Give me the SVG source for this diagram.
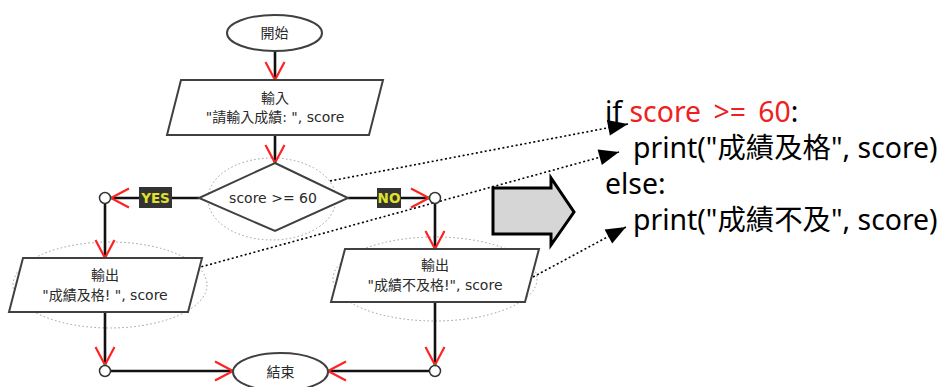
<svg xmlns="http://www.w3.org/2000/svg" width="941" height="387" viewBox="0 0 941 387">
  <style>
    .shape { fill: #fff; stroke: #404040; stroke-width: 2; }
    .halo { fill: none; stroke: #9a9a9a; stroke-width: 1; stroke-dasharray: 1.5 2.5; }
    .flow { fill: none; stroke: #111; stroke-width: 2.6; }
    .dot { fill: #fff; stroke: #333; stroke-width: 1.5; }
    .link { fill: none; stroke: #000; stroke-width: 1.6; stroke-dasharray: 2 2.5; }
    .lbl { font-family: "DejaVu Sans", Verdana, "Noto Sans CJK TC", sans-serif; font-size: 14px; fill: #2a2a2a; text-anchor: middle; }
    .tag { font-family: "DejaVu Sans", Verdana, sans-serif; font-size: 13.5px; font-weight: bold; fill: #e0e22a; text-anchor: middle; }
    .code { font-family: "Noto Sans", "Noto Sans CJK TC", sans-serif; font-size: 28.4px; fill: #000; }
  </style>
  <defs>
    <!-- open red V arrowhead with anchor dot -->
    <marker id="vhead" markerUnits="userSpaceOnUse" viewBox="-20 -11 22 22" refX="0" refY="0" markerWidth="22" markerHeight="22" orient="auto" overflow="visible">
      <path d="M-18,-9.5 L0,0 L-18,9.5" fill="none" stroke="#ff2222" stroke-width="2.2"/>
      <circle cx="0" cy="0" r="1.3" fill="#3a9a3a"/>
    </marker>
    <!-- solid black triangle for dotted pointers -->
    <marker id="thead" markerUnits="userSpaceOnUse" viewBox="0 0 20 16" refX="20" refY="8" markerWidth="20" markerHeight="16" orient="auto" overflow="visible">
      <path d="M0,0 L20,8 L0,16 z" fill="#000"/>
    </marker>
  </defs>

  <!-- dotted highlight outlines -->
  <g id="halos">
    <ellipse class="halo" cx="272" cy="199" rx="64" ry="41"/>
    <ellipse class="halo" cx="110" cy="285" rx="97" ry="43"/>
    <ellipse class="halo" cx="435" cy="279" rx="102" ry="42"/>
  </g>

  <g id="connectors">
    <line class="flow" x1="275" y1="51" x2="275" y2="80" marker-end="url(#vhead)"/>
    <line class="flow" x1="275" y1="135" x2="275" y2="163" marker-end="url(#vhead)"/>
    <line class="flow" x1="199" y1="198" x2="111" y2="198" marker-end="url(#vhead)"/>
    <line class="flow" x1="348" y1="198" x2="429" y2="198" marker-end="url(#vhead)"/>
    <line class="flow" x1="105" y1="203" x2="105" y2="258" marker-end="url(#vhead)"/>
    <line class="flow" x1="435" y1="203" x2="435" y2="249" marker-end="url(#vhead)"/>
    <line class="flow" x1="105" y1="312" x2="105" y2="365" marker-end="url(#vhead)"/>
    <line class="flow" x1="435" y1="302" x2="435" y2="365" marker-end="url(#vhead)"/>
    <line class="flow" x1="111" y1="371" x2="233" y2="371" marker-end="url(#vhead)"/>
    <line class="flow" x1="429" y1="371" x2="328" y2="371" marker-end="url(#vhead)"/>
    <!-- dotted pointers to the code -->
    <line class="link" x1="330" y1="181" x2="628" y2="124" marker-end="url(#thead)"/>
    <line class="link" x1="197" y1="268" x2="619" y2="152" marker-end="url(#thead)"/>
    <line class="link" x1="533" y1="277" x2="626" y2="227" marker-end="url(#thead)"/>
  </g>

  <g id="start">
    <ellipse class="shape" cx="274.5" cy="33" rx="47.5" ry="18"/>
    <text class="lbl" x="274.5" y="38">開始</text>
  </g>

  <g id="input">
    <polygon class="shape" points="181,80 383,80 369,135 167,135"/>
    <text class="lbl" x="275" y="103">輸入</text>
    <text class="lbl" x="275" y="122">"請輸入成績: ", score</text>
  </g>

  <g id="decision">
    <polygon class="shape" points="275,163 348,198 275,231 199,198"/>
    <text class="lbl" x="273" y="203">score &gt;= 60</text>
  </g>

  <g id="yes-label">
    <rect x="139" y="187" width="33" height="21" fill="#333"/>
    <text class="tag" x="155.5" y="203">YES</text>
  </g>

  <g id="no-label">
    <rect x="377" y="188" width="24" height="20" fill="#333"/>
    <text class="tag" x="389" y="203">NO</text>
  </g>

  <g id="junction-yes"><circle class="dot" cx="105" cy="198" r="5.5"/></g>
  <g id="junction-no"><circle class="dot" cx="435" cy="198" r="5.5"/></g>

  <g id="output-pass">
    <polygon class="shape" points="23,258 202,258 188,312 9,312"/>
    <text class="lbl" x="105" y="280">輸出</text>
    <text class="lbl" x="105" y="300">"成績及格! ", score</text>
  </g>

  <g id="output-fail">
    <polygon class="shape" points="345,249 539,249 525,302 331,302"/>
    <text class="lbl" x="435" y="270">輸出</text>
    <text class="lbl" x="435" y="290">"成績不及格!", score</text>
  </g>

  <g id="junction-left"><circle class="dot" cx="105" cy="371" r="5.5"/></g>
  <g id="junction-right"><circle class="dot" cx="435" cy="371" r="5.5"/></g>

  <g id="end">
    <ellipse class="shape" cx="280.5" cy="372" rx="47.5" ry="19"/>
    <text class="lbl" x="280.5" y="377">結束</text>
  </g>

  <!-- conversion arrow -->
  <g id="convert">
    <polygon points="493,188 551,188 551,178 574,212 551,245 551,234 493,234" fill="#d6d6d6" stroke="#000" stroke-width="3" stroke-linejoin="miter"/>
  </g>

  <g id="code">
    <text class="code" x="605" y="122">if <tspan fill="#f02020" word-spacing="5">score &gt;= 60</tspan>:</text>
    <text class="code" x="633" y="158">print("成績及格", score)</text>
    <text class="code" x="605" y="194">else:</text>
    <text class="code" x="633" y="230">print("成績不及", score)</text>
  </g>
</svg>
